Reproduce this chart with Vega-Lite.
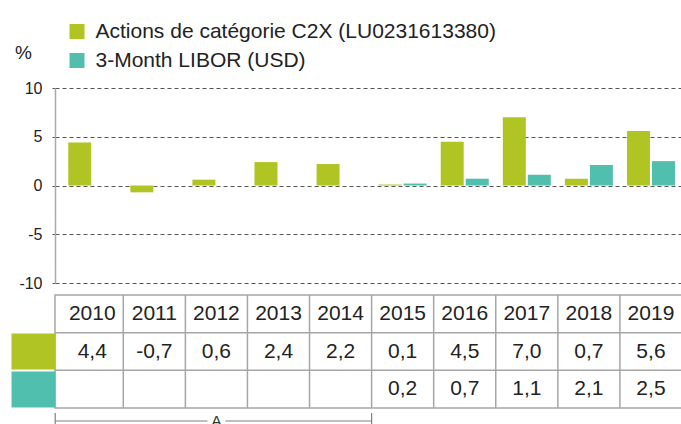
{
  "$schema": "https://vega.github.io/schema/vega-lite/v6.json",
  "padding": {"left": -8, "top": 21, "right": 0, "bottom": 0},
  "background": "white",
  "config": {
    "font": "Liberation Sans",
    "locale": {"number": {"decimal": ",", "thousands": ".", "grouping": [3], "currency": ["", ""], "minus": "-"}},
    "view": {"stroke": null}
  },
  "datasets": {
    "bars": [
      {"year": "2010", "series": "Actions de catégorie C2X (LU0231613380)", "value": 4.4},
      {"year": "2011", "series": "Actions de catégorie C2X (LU0231613380)", "value": -0.7},
      {"year": "2012", "series": "Actions de catégorie C2X (LU0231613380)", "value": 0.6},
      {"year": "2013", "series": "Actions de catégorie C2X (LU0231613380)", "value": 2.4},
      {"year": "2014", "series": "Actions de catégorie C2X (LU0231613380)", "value": 2.2},
      {"year": "2015", "series": "Actions de catégorie C2X (LU0231613380)", "value": 0.1},
      {"year": "2016", "series": "Actions de catégorie C2X (LU0231613380)", "value": 4.5},
      {"year": "2017", "series": "Actions de catégorie C2X (LU0231613380)", "value": 7.0},
      {"year": "2018", "series": "Actions de catégorie C2X (LU0231613380)", "value": 0.7},
      {"year": "2019", "series": "Actions de catégorie C2X (LU0231613380)", "value": 5.6},
      {"year": "2015", "series": "3-Month LIBOR (USD)", "value": 0.2},
      {"year": "2016", "series": "3-Month LIBOR (USD)", "value": 0.7},
      {"year": "2017", "series": "3-Month LIBOR (USD)", "value": 1.1},
      {"year": "2018", "series": "3-Month LIBOR (USD)", "value": 2.1},
      {"year": "2019", "series": "3-Month LIBOR (USD)", "value": 2.5}
    ],
    "periods": [
      {"label": "A", "start": "2010", "mid": "2012", "end": "2014"}
    ]
  },
  "spacing": 2,
  "resolve": {"scale": {"color": "independent"}, "legend": {"color": "independent"}},
  "vconcat": [
    {
      "width": 627,
      "height": 195,
      "data": {"name": "bars"},
      "mark": {"type": "bar"},
      "encoding": {
        "x": {"field": "year", "type": "nominal",
          "scale": {"type": "band", "domain": ["2010","2011","2012","2013","2014","2015","2016","2017","2018","2019"], "paddingInner": 0, "paddingOuter": 0.05, "align": 1},
          "axis": null},
        "xOffset": {"field": "series", "type": "nominal",
          "scale": {"domain": ["Actions de catégorie C2X (LU0231613380)", "3-Month LIBOR (USD)"], "paddingInner": 0.08, "paddingOuter": 0.2816}},
        "y": {"field": "value", "type": "quantitative",
          "scale": {"domain": [-10, 10], "nice": false, "zero": false},
          "axis": {"values": [-10, -5, 0, 5, 10], "grid": true, "gridDash": [4, 3], "gridColor": "#555555", "gridWidth": 1,
            "ticks": true, "tickSize": 3, "tickColor": "#555555", "tickDash": [3, 3],
            "domain": true, "domainColor": "#aaaaaa", "domainWidth": 1.5,
            "labelFontSize": 16, "labelColor": "#222222", "labelPadding": 10,
            "title": "%", "titleAngle": 0, "titleX": -32, "titleY": -36, "titleAlign": "center", "titleBaseline": "middle",
            "titleFontSize": 19, "titleFontWeight": "normal", "titleColor": "#222222"}},
        "color": {"field": "series", "type": "nominal",
          "scale": {"domain": ["Actions de catégorie C2X (LU0231613380)", "3-Month LIBOR (USD)"], "range": ["#b0c423", "#50bfae"]},
          "legend": {"orient": "none", "legendX": 11.5, "legendY": -67, "title": null, "symbolType": "square", "symbolSize": 225,
            "symbolStrokeWidth": 0, "symbolOpacity": 1, "labelFontSize": 21, "labelColor": "#222222", "labelLimit": 800,
            "labelOffset": 8, "rowPadding": 7, "padding": 0}}
      }
    },
    {
      "width": 627,
      "height": 113,
      "view": {"stroke": "#a6a6a6", "strokeWidth": 1.5},
      "data": {"name": "bars"},
      "layer": [
        {
          "transform": [{"aggregate": [{"op": "count", "as": "n"}], "groupby": ["series"]}],
          "mark": {"type": "rule", "color": "#a6a6a6", "strokeWidth": 1.5},
          "encoding": {
            "y": {"field": "series", "type": "nominal", "bandPosition": 0,
              "scale": {"type": "band", "domain": ["year", "Actions de catégorie C2X (LU0231613380)", "3-Month LIBOR (USD)"], "paddingInner": 0, "paddingOuter": 0},
              "axis": {"title": null, "labels": false, "domain": false, "grid": false, "ticks": true, "tickSize": 44, "tickWidth": 36,
                "tickColor": {"condition": [{"test": "datum.value === 'year'", "value": "transparent"}, {"test": "indexof(datum.value, 'LIBOR') >= 0", "value": "#50bfae"}], "value": "#b0c423"}}}
          }
        },
        {
          "transform": [{"filter": "indexof(datum.series, 'LIBOR') < 0 && datum.year !== '2019'"}],
          "mark": {"type": "rule", "color": "#a6a6a6", "strokeWidth": 1.5},
          "encoding": {
            "x": {"field": "year", "type": "nominal", "bandPosition": 1,
              "scale": {"type": "band", "domain": ["2010","2011","2012","2013","2014","2015","2016","2017","2018","2019"], "paddingInner": 0, "paddingOuter": 0.05, "align": 1},
              "axis": null}
          }
        },
        {
          "transform": [{"filter": "indexof(datum.series, 'LIBOR') < 0"}],
          "mark": {"type": "text", "fontSize": 21, "color": "#222222", "baseline": "middle"},
          "encoding": {
            "x": {"field": "year", "type": "nominal"},
            "y": {"datum": "year", "type": "nominal"},
            "text": {"field": "year", "type": "nominal"}
          }
        },
        {
          "mark": {"type": "text", "fontSize": 21, "color": "#222222", "baseline": "middle"},
          "encoding": {
            "x": {"field": "year", "type": "nominal"},
            "y": {"field": "series", "type": "nominal"},
            "text": {"field": "value", "type": "quantitative", "format": ".1f"}
          }
        }
      ]
    },
    {
      "width": 627,
      "height": 8,
      "data": {"name": "periods"},
      "encoding": {
        "x": {"field": "start", "type": "nominal", "bandPosition": 0,
          "scale": {"type": "band", "domain": ["2010","2011","2012","2013","2014","2015","2016","2017","2018","2019"], "paddingInner": 0, "paddingOuter": 0.05, "align": 1},
          "axis": null}
      },
      "layer": [
        {
          "mark": {"type": "rule", "color": "#808080", "strokeWidth": 1.2, "xOffset": -6, "x2Offset": -9},
          "encoding": {
            "x2": {"field": "mid", "bandPosition": 0.5},
            "y": {"datum": 6, "type": "quantitative", "scale": {"domain": [0, 8], "reverse": true, "nice": false, "zero": false}, "axis": null}
          }
        },
        {
          "mark": {"type": "rule", "color": "#808080", "strokeWidth": 1.2, "xOffset": 9},
          "encoding": {
            "x": {"field": "mid", "type": "nominal", "bandPosition": 0.5},
            "x2": {"field": "end", "bandPosition": 1},
            "y": {"datum": 6, "type": "quantitative"}
          }
        },
        {
          "mark": {"type": "rule", "color": "#808080", "strokeWidth": 1.2, "xOffset": -6},
          "encoding": {
            "y": {"datum": -2, "type": "quantitative"},
            "y2": {"datum": 20}
          }
        },
        {
          "mark": {"type": "rule", "color": "#808080", "strokeWidth": 1.2},
          "encoding": {
            "x": {"field": "end", "type": "nominal", "bandPosition": 1},
            "y": {"datum": -2, "type": "quantitative"},
            "y2": {"datum": 20}
          }
        },
        {
          "mark": {"type": "text", "fontSize": 15, "color": "#333333", "baseline": "middle"},
          "encoding": {
            "x": {"field": "mid", "type": "nominal", "bandPosition": 0.5},
            "y": {"datum": 6, "type": "quantitative"},
            "text": {"field": "label", "type": "nominal"}
          }
        }
      ]
    }
  ]
}
